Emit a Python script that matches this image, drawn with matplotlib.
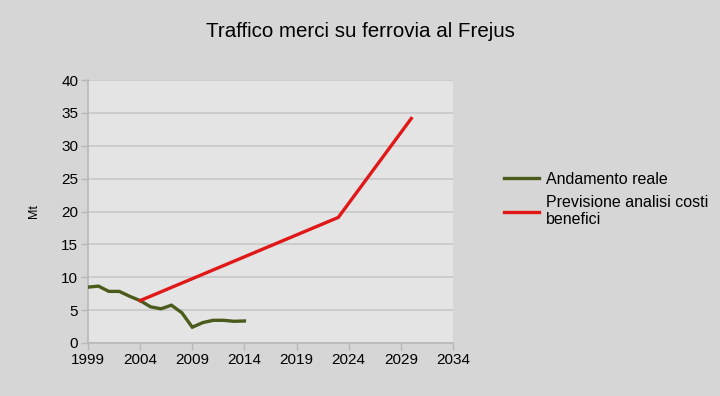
import numpy as np
import matplotlib.pyplot as plt

plt.rcParams['font.family'] = ['Liberation Sans', 'DejaVu Sans']

# data
years_real = [1999, 2000, 2001, 2002, 2003, 2004, 2005, 2006, 2007, 2008,
              2009, 2010, 2011, 2012, 2013, 2014]
mt_real = [8.5, 8.65, 7.85, 7.85, 7.1, 6.45, 5.5, 5.2, 5.75, 4.6,
           2.4, 3.1, 3.45, 3.45, 3.3, 3.35]
years_fc = [2004, 2023, 2030]
mt_fc = [6.45, 19.1, 34.15]

xticks = [1999, 2004, 2009, 2014, 2019, 2024, 2029, 2034]
yticks = [0, 5, 10, 15, 20, 25, 30, 35, 40]

bg = '#d6d6d6'
grid_c = '#c8c8c8'

fig = plt.figure(figsize=(7.2, 3.96), dpi=100, facecolor=bg)
ax = fig.add_axes([88 / 720, 53 / 396, 365 / 720, 263 / 396])
ax.set_facecolor('#e4e4e4')

ax.plot(years_real, mt_real, color='#4b5b1c', lw=2.4, label='Andamento reale',
        solid_joinstyle='miter', zorder=3)
ax.plot(years_fc, mt_fc, color='#e01818', lw=2.4,
        label='Previsione analisi costi\nbenefici', solid_joinstyle='miter', zorder=3)

ax.set_xlim(1999, 2034)
ax.set_ylim(0, 40)
ax.set_xticks(xticks)
ax.set_yticks(yticks)
ax.yaxis.grid(True, color=grid_c, lw=1.2)
ax.set_axisbelow(True)
for s in ['top', 'right']:
    ax.spines[s].set_visible(False)
for s in ['left', 'bottom']:
    ax.spines[s].set_color('#b8b8b8')
    ax.spines[s].set_linewidth(1.2)
ax.tick_params(axis='both', direction='out', length=5, width=1, color='#b8b8b8',
               labelsize=11, pad=2)

ax.set_ylabel('Mt', fontsize=9, labelpad=15)
fig.text(0.5, 0.92, 'Traffico merci su ferrovia al Frejus', ha='center',
         va='center', fontsize=14.8)

fig.legend(loc='upper left', bbox_to_anchor=(504 / 720, 1 - 172 / 396),
           frameon=False, fontsize=11.5, handlelength=2.2, handletextpad=0.4,
           labelspacing=0.5, borderaxespad=0, borderpad=0)

fig.savefig('out.png', dpi=100, facecolor=bg)
